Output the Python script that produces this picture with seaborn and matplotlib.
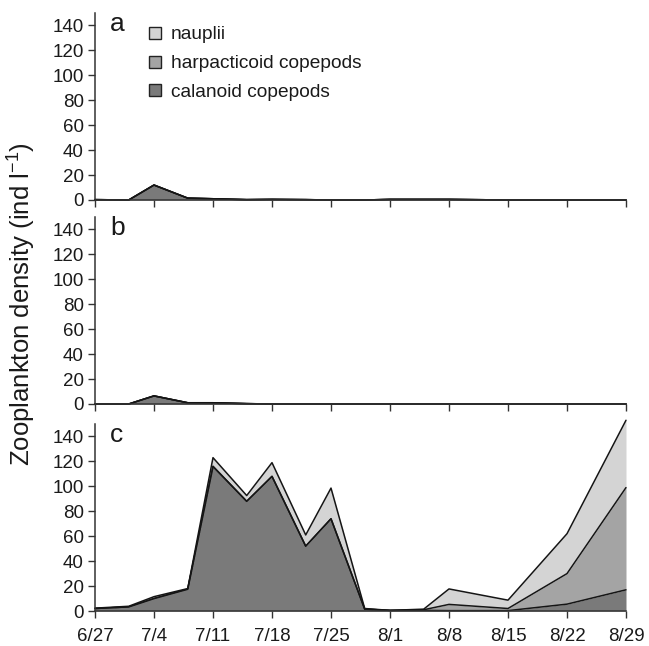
import numpy as np
import pandas as pd
import matplotlib
matplotlib.use("Agg")
import matplotlib.pyplot as plt
import seaborn as sns
from matplotlib.lines import Line2D

# ---------------- data ----------------
dates = ["6/27", "7/1", "7/4", "7/8", "7/11", "7/15", "7/18", "7/22", "7/25",
         "7/29", "8/1", "8/5", "8/8", "8/15", "8/22", "8/29"]
tick_labels = ["6/27", "7/4", "7/11", "7/18", "7/25", "8/1", "8/8", "8/15", "8/22", "8/29"]
series_names = ["calanoid copepods", "harpacticoid copepods", "nauplii"]

# panel a
a_calanoid     = [0.3, 0, 12, 1.5, 1, 0.3, 0.5, 0.3, 0, 0, 0.5, 0.5, 0.5, 0, 0, 0]
a_harpacticoid = [0, 0, 0, 0, 0, 0, 0, 0, 0, 0, 0, 0, 0, 0, 0, 0]
a_nauplii      = [0, 0, 0, 0, 0, 0, 0, 0, 0, 0, 0, 0, 0, 0, 0, 0]
# panel b
b_calanoid     = [0, 0, 6.5, 1, 1, 0.3, 0, 0, 0, 0, 0, 0, 0, 0, 0, 0]
b_harpacticoid = [0, 0, 0, 0, 0, 0, 0, 0, 0, 0, 0, 0, 0, 0, 0, 0]
b_nauplii      = [0, 0, 0, 0, 0, 0, 0, 0, 0, 0, 0, 0, 0, 0, 0, 0]
# panel c
c_calanoid     = [2, 3.3, 10, 17.5, 116, 88, 108, 52, 74, 1.5, 0.5, 0.5, 0.3, 0.3, 5.5, 17]
c_harpacticoid = [0, 0, 0, 0, 0, 0, 0, 0, 0, 0, 0, 0.5, 5, 1.7, 24.5, 82]
c_nauplii      = [0.3, 0.5, 1.5, 0.5, 7, 4.6, 11, 9, 24.6, 0.5, 0, 0.5, 12.4, 6.7, 32, 54]

colors = {"calanoid copepods": "#7a7a7a",
          "harpacticoid copepods": "#a4a4a4",
          "nauplii": "#d4d4d4"}

# ---------------- style ----------------
sns.set_theme(style="ticks")
plt.rcParams["font.family"] = ["Liberation Sans", "DejaVu Sans"]
plt.rcParams["mathtext.fontset"] = "custom"
plt.rcParams["mathtext.rm"] = "Liberation Sans"
plt.rcParams["mathtext.it"] = "Liberation Sans:italic"

def to_day(s):
    m, d = s.split("/")
    return (pd.Timestamp(2000, int(m), int(d)) - pd.Timestamp(2000, 6, 27)).days

x = np.array([to_day(s) for s in dates])
xt = np.array([to_day(s) for s in tick_labels])

W, H = 649, 646
fig = plt.figure(figsize=(W / 100, H / 100), dpi=100)

left = 95 / W
width = (626 - 95) / W
ph = 187 / H
bottoms_px = [200, 404, 611]

panels = [
    ("a", a_calanoid, a_harpacticoid, a_nauplii),
    ("b", b_calanoid, b_harpacticoid, b_nauplii),
    ("c", c_calanoid, c_harpacticoid, c_nauplii),
]

axes = []
for i, (lab, cal, har, nau) in enumerate(panels):
    ax = fig.add_axes([left, 1 - bottoms_px[i] / H, width, ph])
    axes.append(ax)
    layers = [np.array(cal, float), np.array(har, float), np.array(nau, float)]
    cum = np.cumsum(layers, axis=0)
    lower = np.zeros_like(x, dtype=float)
    for name, top in zip(series_names, cum):
        ax.fill_between(x, lower, top, color=colors[name], linewidth=0, clip_on=False)
        lower = top
    for name, top in zip(series_names, cum):
        df = pd.DataFrame({"day": x, "value": top})
        sns.lineplot(data=df, x="day", y="value", ax=ax, color="#151515",
                     linewidth=1.1, clip_on=False)
    ax.set_xlim(0, 63)
    ax.set_ylim(0, 150)
    ax.set_yticks(np.arange(0, 141, 20))
    ax.set_xticks(xt)
    ax.tick_params(axis="both", direction="out", length=5, width=1, color="#333333",
                   labelsize=13.5, labelcolor="#1a1a1a")
    ax.tick_params(axis="x", pad=7)
    ax.tick_params(axis="y", pad=3)
    if i < 2:
        ax.set_xticklabels([])
    else:
        ax.set_xticklabels(tick_labels)
    ax.set_xlabel("")
    ax.set_ylabel("")
    sns.despine(ax=ax, top=True, right=True)
    for sp in ["left", "bottom"]:
        ax.spines[sp].set_linewidth(1.1)
        ax.spines[sp].set_color("#333333")
    ax.set_facecolor("white")
    ax.text(0.028, 1.005, lab, transform=ax.transAxes, fontsize=19,
            va="top", ha="left", color="#1a1a1a")

# legend in panel a
leg_names = ["nauplii", "harpacticoid copepods", "calanoid copepods"]
handles = [Line2D([], [], linestyle="none", marker="s", markersize=8,
                  markerfacecolor=colors[n], markeredgecolor="#222222",
                  markeredgewidth=1.0) for n in leg_names]
axes[0].legend(handles, leg_names,
               loc="upper left", bbox_to_anchor=(0.08, 0.972), frameon=False,
               fontsize=13.8, handletextpad=0.35, labelspacing=0.6,
               borderaxespad=0, handlelength=1.0, labelcolor="#1a1a1a")

fig.text(22 / W, 1 - 304 / H, "Zooplankton density (ind l$^{-1}$)", rotation=90,
         ha="center", va="center", fontsize=18.5, color="#1a1a1a")

fig.savefig("out.png", dpi=100, facecolor="white")
